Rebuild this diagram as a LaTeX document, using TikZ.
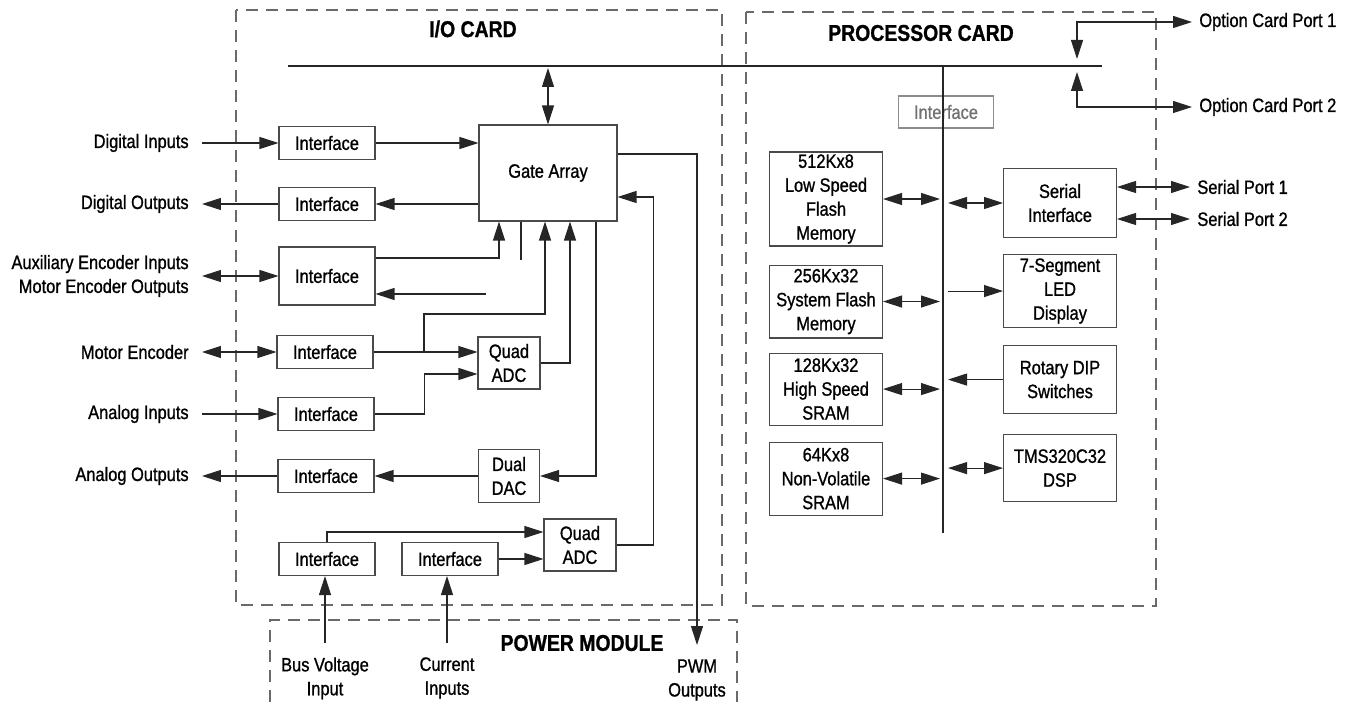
\documentclass[tikz,border=0pt]{standalone}
\usepackage{fontspec}
\setmainfont{Liberation Sans}[FakeStretch=0.85, FakeBold=1]
\usetikzlibrary{arrows.meta, positioning, calc}
\definecolor{wirec}{HTML}{262626}
\definecolor{framec}{HTML}{6A6A6A}
\definecolor{boxc}{HTML}{4A4A4A}

\begin{document}
\begin{tikzpicture}[x=0.02cm, y=-0.02cm, font=\fontsize{11}{13.6}\selectfont,
    >={Triangle[length=3.8mm, width=2.4mm]},
    wire/.style={draw=wirec, line width=0.6pt},
    blk/.style={draw=boxc, line width=0.6pt, align=center, inner sep=0pt},
    iface/.style={blk, minimum width=19.2mm, minimum height=6.6mm},
    pblk/.style={blk, minimum width=22.6mm},
    card/.style={draw=framec, line width=0.6pt, dash pattern=on 2.4mm off 1.6mm},
    title/.style={font=\fontsize{13}{15}\selectfont\bfseries},
    sigl/.style={anchor=east, inner xsep=2.6mm, inner ysep=0pt, align=right},
    sigr/.style={anchor=west, inner xsep=1.4mm, inner ysep=0pt},
    sigb/.style={anchor=north, inner xsep=0pt, inner ysep=2.8mm, align=center}]

  \useasboundingbox (0,0) rectangle (1348,702);

  % card outlines
  \draw[card] (236,10) rectangle (722,605);
  \draw[card] (746,12) rectangle (1156,606);
  \draw[card] (270,702) |- (737,620) -- (737,702);
  \node[title] (tio) at (473,29) {I/O CARD};
  \node[title] (tproc) at (921,33) {PROCESSOR CARD};
  \node[title] (tpow) at (582,643) {POWER MODULE};

  \coordinate (busl) at (288,66);
  \coordinate (busr) at (1102,66);
  \draw[wire] (busl) -- (busr);

  % I/O card
  \node[blk, minimum width=27.6mm, minimum height=19.2mm] (gate) at (548,173) {Gate Array};
  \node[iface] (ifdi) at (327,143) {Interface};
  \node[iface] (ifdo) at (327,204) {Interface};
  \node[iface, minimum height=11.6mm] (ifaux) at (327,276) {Interface};
  \node[iface] (ifme) at (325,352) {Interface};
  \node[iface] (ifai) at (326,414) {Interface};
  \node[iface] (ifao) at (326,476) {Interface};
  \node[iface] (ifbus) at (327,559) {Interface};
  \node[iface] (ifcur) at (450,559) {Interface};
  \node[blk, minimum width=12.4mm, minimum height=10.4mm] (adc1) at (509,363) {Quad\\ADC};
  \node[blk, minimum width=12.2mm, minimum height=10.6mm] (dac) at (509,476) {Dual\\DAC};
  \node[blk, minimum width=14.4mm, minimum height=10.4mm] (adc2) at (580,545) {Quad\\ADC};

  \node[sigl] (ldi) at (202,143) {Digital Inputs};
  \node[sigl] (ldo) at (202,204) {Digital Outputs};
  \node[sigl] (laux) at (202,276) {Auxiliary Encoder Inputs\\Motor Encoder Outputs};
  \node[sigl] (lme) at (202,352) {Motor Encoder};
  \node[sigl] (lai) at (202,414) {Analog Inputs};
  \node[sigl] (lao) at (202,476) {Analog Outputs};
  \node[sigb] (lbus) at (325,643) {Bus Voltage\\Input};
  \node[sigb] (lcur) at (447,643) {Current\\Inputs};
  \node[sigb] (lpwm) at (697,645) {PWM\\Outputs};

  \coordinate (auxret) at (486,294);
  \coordinate (gstub) at (521,260);
  \coordinate (mebr) at (424,352);

  \draw[wire, <->] (gate.north) -- ($(gate.north |- busl)+(0,2)$);
  \draw[wire, ->] (ldi) -- (ifdi);
  \draw[wire, ->] (ifdi) -- (ifdi -| gate.west);
  \draw[wire, ->] (gate.west |- ifdo) -- (ifdo);
  \draw[wire, ->] (ifdo) -- (ldo);
  \draw[wire, <->] (laux) -- (ifaux);
  \draw[wire, ->] ([yshift=3.6mm]ifaux.east) -| ([xshift=-9.8mm]gate.south);
  \draw[wire, ->] (auxret) -- (auxret -| ifaux.east);
  \draw[wire] (gstub) -- (gstub |- gate.south);
  \draw[wire, <->] (lme) -- (ifme);
  \draw[wire, ->] (ifme) -- (ifme -| adc1.west);
  \draw[wire, ->] (mebr) -- ++(0,-38) -| ([xshift=-0.6mm]gate.south);
  \draw[wire, ->] (adc1.east) -| ([xshift=4.4mm]gate.south);
  \draw[wire, ->] (lai) -- (ifai);
  \draw[wire, ->] (ifai.east) -- ++(50,0) |- ([yshift=-2.2mm]adc1.west);
  \draw[wire, ->] ([xshift=9.6mm]gate.south) |- (dac.east);
  \draw[wire, ->] (dac) -- (ifao);
  \draw[wire, ->] (ifao) -- (lao);
  \draw[wire, ->] (lbus.north) -- (lbus.north |- ifbus.south);
  \draw[wire, ->] (lcur.north) -- (lcur.north |- ifcur.south);
  \draw[wire, ->] (ifbus.north) |- ([yshift=2.6mm]adc2.west);
  \draw[wire, ->] (ifcur) -- (ifcur -| adc2.west);
  \draw[wire, ->] (adc2.east) -- ++(37,0) |- ([yshift=-4.8mm]gate.east);
  \draw[wire, ->] ([yshift=3.8mm]gate.east) -| (lpwm.north);

  % processor card
  \coordinate (pbt) at (943,66);
  \coordinate (pbb) at (943,533);
  \node[blk, draw=black!45, text=black!55, minimum width=19mm, minimum height=6.4mm] (ifp) at (946,112) {Interface};
  \draw[wire] (pbt) -- (pbb);

  \node[pblk, minimum height=18.8mm] (flash1) at (826,199) {512Kx8\\Low Speed\\Flash\\Memory};
  \node[pblk, minimum height=14.6mm, below=3.6mm of flash1] (flash2) {256Kx32\\System Flash\\Memory};
  \node[pblk, minimum height=14.4mm, below=2.8mm of flash2] (sram) {128Kx32\\High Speed\\SRAM};
  \node[pblk, minimum height=14.6mm, below=3.2mm of sram] (nvram) {64Kx8\\Non-Volatile\\SRAM};
  \node[pblk, minimum height=13.8mm] (serial) at (1060,203) {Serial\\Interface};
  \node[pblk, minimum height=14.6mm, below=3.2mm of serial] (seg7) {7-Segment\\LED\\Display};
  \node[pblk, minimum height=13.6mm, below=3.4mm of seg7] (dip) {Rotary DIP\\Switches};
  \node[pblk, minimum height=13.4mm, below=4mm of dip] (dsp) {TMS320C32\\DSP};

  \draw[wire, <->] (flash1.east) -- ($(flash1.east -| pbt)+(-3,0)$);
  \draw[wire, <->] (flash2.east) -- ($(flash2.east -| pbt)+(-3,0)$);
  \draw[wire, <->] (sram.east) -- ($(sram.east -| pbt)+(-3,0)$);
  \draw[wire, <->] (nvram.east) -- ($(nvram.east -| pbt)+(-3,0)$);
  \draw[wire, <->] ($(serial.west -| pbt)+(5,0)$) -- (serial.west);
  \draw[wire, ->] ($(seg7.west -| pbt)+(5,0)$) -- (seg7.west);
  \draw[wire, ->] (dip.west) -- ($(dip.west -| pbt)+(5,0)$);
  \draw[wire, <->] ($(dsp.west -| pbt)+(5,0)$) -- (dsp.west);

  \node[sigr] (lopt1) at (1192,22) {Option Card Port 1};
  \node[sigr] (lopt2) at (1192,107) {Option Card Port 2};
  \node[sigr] (lsp1) at (1190,187) {Serial Port 1};
  \node[sigr] (lsp2) at (1190,219) {Serial Port 2};
  \coordinate (opt1) at (1077,59);
  \coordinate (opt2) at (1077,72);
  \draw[wire, <->] (opt1) |- (lopt1);
  \draw[wire, <->] (opt2) |- (lopt2);
  \draw[wire, <->] (serial.east |- lsp1) -- (lsp1);
  \draw[wire, <->] (serial.east |- lsp2) -- (lsp2);
\end{tikzpicture}
\end{document}
